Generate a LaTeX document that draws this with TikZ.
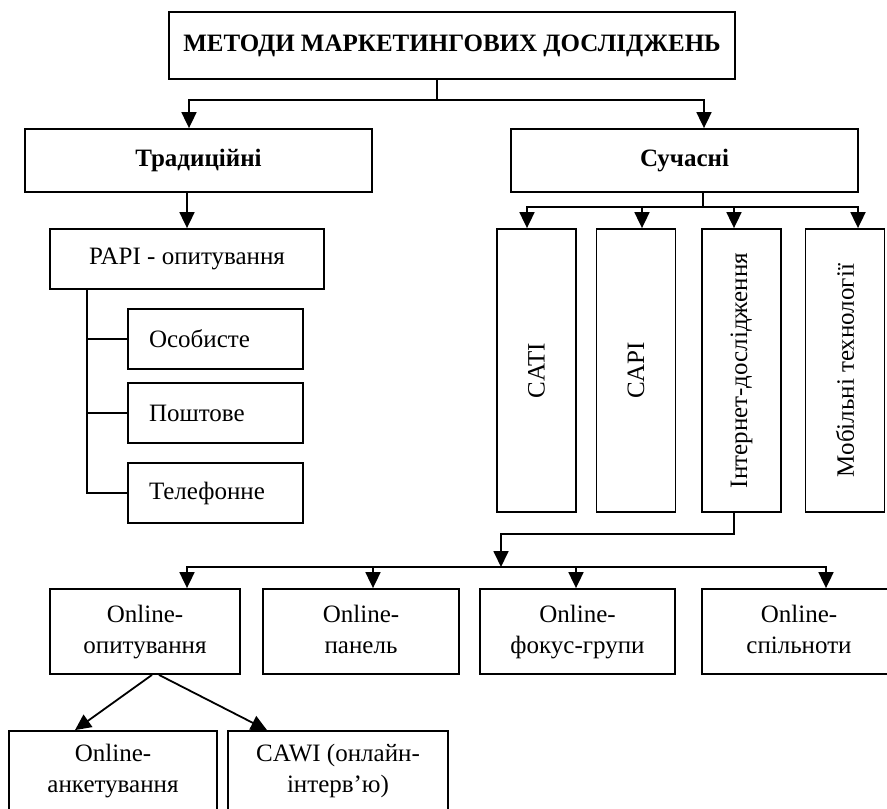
\documentclass[tikz,border=0pt]{standalone}
\usepackage{fontspec}
\setmainfont{Liberation Serif}
\usepackage{tikz}
\usetikzlibrary{arrows.meta}
\newcommand{\boxfont}{\fontsize{25}{31}\selectfont}
\newcommand{\twoline}[2]{\strut#1\\\strut#2}
\tikzset{
  mbox/.style = {draw=black, line width=1.8pt, align=center, inner sep=0pt, font=\boxfont},
  headbox/.style = {mbox, font=\boxfont\bfseries},
  leafbox/.style = {mbox, minimum height=60pt, text width=133pt, inner xsep=21pt, align=left},
  vbox/.style = {mbox, minimum width=79pt, minimum height=283pt},
  obox/.style = {mbox, minimum height=85pt},
  link/.style = {line width=1.8pt},
  arr/.style = {link, -{Triangle[width=15pt,length=16pt]}},
}
\begin{document}
\begin{tikzpicture}[x=1pt, y=-1pt]
\useasboundingbox (0,0) rectangle (887,809);

\node [headbox, minimum width=566pt, minimum height=67pt] (title) at (452,45.5) {МЕТОДИ МАРКЕТИНГОВИХ ДОСЛІДЖЕНЬ};
\node [headbox, minimum width=347pt, minimum height=63pt] (trad) at (198.5,160.5) {Традиційні};
\node [headbox, minimum width=347pt, minimum height=63pt] (modern) at (684.5,160.5) {Сучасні};

\node [mbox, minimum width=274pt, minimum height=60pt] (papi) at (187,259) {PAPI - опитування};
\node [leafbox] (personal) at (215.5,339) {Особисте};
\node [leafbox] (postal) at (215.5,413) {Поштове};
\node [leafbox] (phone) at (215.5,493) {Телефонне};

\node [vbox] (cati) at (536.5,370.5) {\rotatebox{90}{CATI}};
\node [vbox] (capi) at (636,370.5) {\rotatebox{90}{CAPI}};
\node [vbox] (inet) at (741.5,370.5) {\rotatebox{90}{Інтернет-дослідження}};
\node [vbox] (mobile) at (845,370.5) {\rotatebox{90}{Мобільні технології}};

\node [obox, minimum width=190pt] (survey) at (145,631.5) {\twoline{Online-}{опитування}};
\node [obox, minimum width=196pt] (panel) at (361,631.5) {\twoline{Online-}{панель}};
\node [obox, minimum width=195pt] (focus) at (577.5,631.5) {\twoline{Online-}{фокус-групи}};
\node [obox, minimum width=194pt] (community) at (799,631.5) {\twoline{Online-}{спільноти}};

\node [mbox, minimum width=208pt, minimum height=80pt] (form) at (113,771) {\twoline{Online-}{анкетування}};
\node [mbox, minimum width=220pt, minimum height=80pt] (cawi) at (338,771) {\twoline{CAWI (онлайн-}{інтерв’ю)}};

% branching points of the connectors
\coordinate (split) at (437,100);
\coordinate (hub) at (703,207);
\coordinate (bus) at (501,567);

\draw [link] (title.south -| split) -- (split);
\draw [arr] (split) -| ([xshift=-9.5]trad.north);
\draw [arr] (split) -| ([xshift=19.5]modern.north);

\draw [arr] (trad.south -| papi.north) -- (papi.north);
\foreach \leaf in {personal,postal,phone}
  \draw [link] ([xshift=38]papi.south west) |- (\leaf.west);

\draw [link] (modern.south -| hub) -- (hub);
\foreach \n/\dx in {cati/-9.5,capi/6,inet/-7.5,mobile/13}
  \draw [arr] (hub) -| ([xshift=\dx]\n.north);

\draw [arr] ([xshift=-7.5]inet.south) -- ++(0,21) -| (bus);
\foreach \n/\dx in {survey/42,panel/12,focus/-1.5,community/27}
  \draw [arr] (bus) -| ([xshift=\dx]\n.north);

\draw [arr] ([xshift=7]survey.south) -- ([xshift=-38]form.north);
\draw [arr] ([xshift=14]survey.south) -- ([xshift=-71]cawi.north);
\end{tikzpicture}
\end{document}
